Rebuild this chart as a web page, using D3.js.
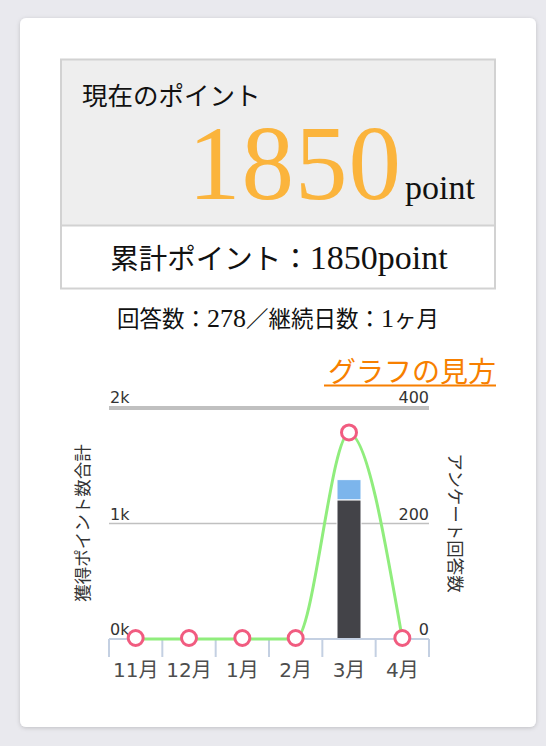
<!DOCTYPE html>
<html>
<head>
<meta charset="utf-8">
<script src="https://cdn.jsdelivr.net/npm/d3@7/dist/d3.min.js"></script>
<style>
html,body{margin:0;padding:0;background:#e9e9ee;}
svg{display:block;}
</style>
</head>
<body>
<svg id="chart" width="546" height="746"></svg>
<script>
// ---- data ----
const months = ["11月","12月","1月","2月","3月","4月"];
const pointTotals = [0,0,0,0,1780,0];      // 獲得ポイント数合計 (left axis)
const answersMain = [0,0,0,0,241,0];       // アンケート回答数 (dark part)
const answersExtra = [0,0,0,0,35,0];       // アンケート回答数 (blue part)
const leftTicks = [0,1000,2000];
const leftTickLabels = ["0k","1k","2k"];
const rightTicks = [0,200,400];
const rightTickLabels = ["0","200","400"];
const currentPoint = "1850";
const totalParts = [["累計ポイント：",false],["1850point",true]];
const summaryParts = [["回答数：",false],["278",true],["／継続日数：",false],["1",true],["ヶ月",false]];

const svg = d3.select("#chart");
const serif = "'Liberation Serif','Noto Sans CJK JP',serif";
const sans = "'DejaVu Sans','Noto Sans CJK JP',sans-serif";
const cjk = "'Noto Sans CJK JP','Noto Sans',sans-serif";

// card
const defs = svg.append("defs");
const f = defs.append("filter").attr("id","sh").attr("x","-10%").attr("y","-10%").attr("width","120%").attr("height","120%");
f.append("feDropShadow").attr("dx",0).attr("dy",1).attr("stdDeviation",2).attr("flood-color","#000").attr("flood-opacity",0.18);
svg.append("rect").attr("x",20).attr("y",18).attr("width",516).attr("height",709).attr("rx",6)
  .attr("fill","#fff").attr("filter","url(#sh)");

// top box
svg.append("rect").attr("x",61).attr("y",59.5).attr("width",434).attr("height",166).attr("fill","#eeeeee");
svg.append("rect").attr("x",61).attr("y",59.5).attr("width",434).attr("height",229)
  .attr("fill","none").attr("stroke","#d2d2d2").attr("stroke-width",2);
svg.append("line").attr("x1",61).attr("x2",495).attr("y1",225.5).attr("y2",225.5).attr("stroke","#d2d2d2").attr("stroke-width",2);

svg.append("text").attr("x",82).attr("y",105).attr("font-family",serif).attr("font-size",25.5)
  .attr("fill","#111").text("現在のポイント");
svg.append("text").attr("x",402).attr("y",199).attr("text-anchor","end").attr("font-family",serif)
  .attr("font-size",105).attr("fill","#fbb43c").attr("letter-spacing",1).text(currentPoint);
svg.append("text").attr("x",405).attr("y",199).attr("font-family",serif).attr("font-size",34)
  .attr("fill","#111").text("point");

const t1 = svg.append("text").attr("x",279).attr("y",269).attr("text-anchor","middle").attr("font-family",serif)
  .attr("fill","#111");
t1.selectAll("tspan").data(totalParts).join("tspan").attr("font-size",d=>d[1]?34:28.5).text(d=>d[0]);
const t2 = svg.append("text").attr("x",278).attr("y",327).attr("text-anchor","middle").attr("font-family",serif)
  .attr("fill","#111");
t2.selectAll("tspan").data(summaryParts).join("tspan").attr("font-size",d=>d[1]?26:22.5).text(d=>d[0]);

// link
svg.append("text").attr("x",496).attr("y",382).attr("text-anchor","end").attr("font-family",serif)
  .attr("font-size",28).attr("fill","#f77f00").text("グラフの見方");
svg.append("line").attr("x1",324).attr("x2",496).attr("y1",385.5).attr("y2",385.5).attr("stroke","#f77f00").attr("stroke-width",2);

// ---- chart ----
const x = d3.scaleBand().domain(months).range([109,429]);
const yL = d3.scaleLinear().domain([0,2000]).range([639,408]);
const yR = d3.scaleLinear().domain([0,400]).range([639,408]);

// gridlines
svg.append("g").selectAll("line").data(leftTicks.filter(d=>d>0)).join("line")
  .attr("x1",109).attr("x2",429)
  .attr("y1",d=>yL(d)).attr("y2",d=>yL(d))
  .attr("stroke","#c0c0c0").attr("stroke-width",d=>d===2000?4:1.5);

// left tick labels
svg.append("g").selectAll("text").data(leftTicks).join("text")
  .attr("x",110).attr("y",(d)=>yL(d)-(d===2000?5:4))
  .attr("font-family",sans).attr("font-size",16).attr("fill","#333")
  .text((d,i)=>leftTickLabels[i]);
// right tick labels
svg.append("g").selectAll("text").data(rightTicks).join("text")
  .attr("x",429).attr("y",d=>yR(d)-(d===400?5:4)).attr("text-anchor","end")
  .attr("font-family",sans).attr("font-size",16).attr("fill","#333")
  .text((d,i)=>rightTickLabels[i]);

// axis titles
svg.append("text").attr("transform","translate(89,523) rotate(-90)").attr("text-anchor","middle")
  .attr("font-family",cjk).attr("font-size",17.5).attr("fill","#333").text("獲得ポイント数合計");
svg.append("text").attr("transform","translate(449,523) rotate(90)").attr("text-anchor","middle")
  .attr("font-family",cjk).attr("font-size",17.5).attr("fill","#333").text("アンケート回答数");

// stacked bars (right axis)
const barW = 24;
const stackData = months.map((m,i)=>({m, a:answersMain[i], b:answersExtra[i]}));
const stack = d3.stack().keys(["a","b"])(stackData);
const colors = {a:"#434348", b:"#7cb5ec"};
svg.append("g").selectAll("g").data(stack).join("g").attr("fill",s=>colors[s.key])
  .selectAll("rect").data(s=>s.filter(d=>d[1]-d[0]>0)).join("rect")
  .attr("x",d=>x(d.data.m)+x.bandwidth()/2-barW/2)
  .attr("width",barW)
  .attr("y",d=>yR(d[1]))
  .attr("height",d=>yR(d[0])-yR(d[1]))
  .attr("stroke","#fff").attr("stroke-width",1);

// x axis
svg.append("line").attr("x1",109).attr("x2",429).attr("y1",639).attr("y2",639).attr("stroke","#c4d0e2").attr("stroke-width",2);
const bounds = months.map(m=>x(m)).concat([x(months[months.length-1])+x.bandwidth()]);
svg.append("g").selectAll("line").data(bounds).join("line")
  .attr("x1",d=>d).attr("x2",d=>d).attr("y1",639).attr("y2",657)
  .attr("stroke","#c4d0e2").attr("stroke-width",2);
svg.append("g").selectAll("text").data(months).join("text")
  .attr("x",d=>x(d)+x.bandwidth()/2).attr("y",677).attr("text-anchor","middle")
  .attr("font-family",sans).attr("font-size",20).attr("fill","#4d4d4d").text(d=>d);

// line (left axis)
const pts = months.map((m,i)=>[x(m)+x.bandwidth()/2, yL(pointTotals[i])]);
svg.append("path").attr("d",d3.line().curve(d3.curveMonotoneX)(pts))
  .attr("fill","none").attr("stroke","#90ed7d").attr("stroke-width",3);
svg.append("g").selectAll("circle").data(pts).join("circle")
  .attr("cx",d=>d[0]).attr("cy",d=>d[1]-1).attr("r",7.5)
  .attr("fill","#fff").attr("stroke","#f15c80").attr("stroke-width",3);
</script>
</body>
</html>
